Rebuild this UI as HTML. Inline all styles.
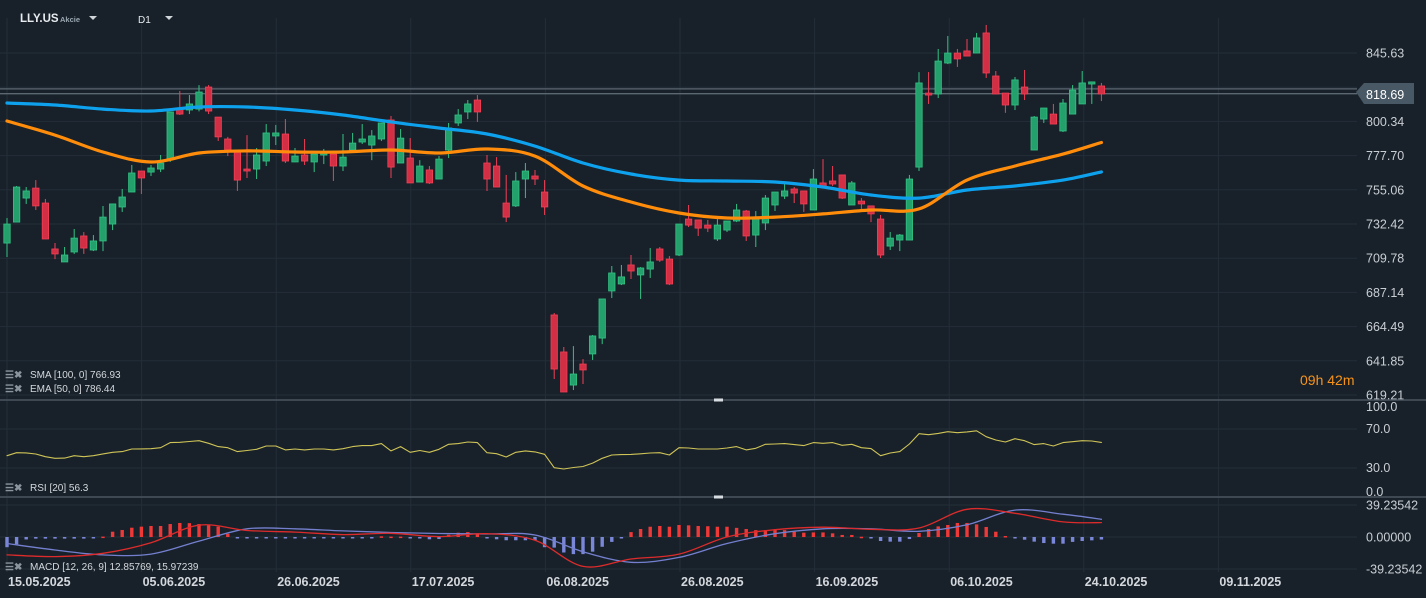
<!DOCTYPE html>
<html><head><meta charset="utf-8">
<style>
html,body{margin:0;padding:0;background:#18212a;width:1426px;height:598px;overflow:hidden;font-family:"Liberation Sans",sans-serif}
svg{display:block}
</style></head>
<body>
<svg id="chart" width="1426" height="598" xmlns="http://www.w3.org/2000/svg">
<rect width="1426" height="598" fill="#18212a"/>
<g id="grid"></g>
<g id="series"></g>
<g id="overlay">
 <text x="20" y="22" fill="#e8ecef" font-size="11.5" font-weight="bold">LLY.US</text>
 <text x="60" y="22" fill="#9aa7b2" font-size="7.5" font-weight="bold">Akcie</text>
 <path d="M89,16 L97,16 L93,20 Z" fill="#d0d5da"/>
 <text x="138" y="23" fill="#e8ecef" font-size="10">D1</text>
 <path d="M165,16 L173,16 L169,20 Z" fill="#d0d5da"/>
 <text x="1300" y="385" fill="#f7931a" font-size="14">09h 42m</text>
</g>
<g id="legends"></g>
</svg>
<script>
const candleOpen=[719.8,733.7,749.6,756.2,746.3,715.9,707.3,713.9,724.5,715.2,721.2,732.4,743.7,753.6,767.5,766.8,768.8,775.4,808.5,807.9,808.5,823.1,803.2,788.7,781.4,768.8,768.8,774.1,790.7,792.0,773.5,778.1,773.5,778.1,778.7,770.8,781.4,786.7,784.7,788.7,801.3,772.8,776.1,760.2,768.2,762.2,781.4,799.3,806.6,814.5,772.8,770.8,746.3,744.4,762.2,764.2,753.6,672.2,647.7,625.8,639.7,646.4,656.9,688.1,692.7,705.3,698.7,702.6,715.9,709.2,711.9,735.7,735.1,731.7,722.5,728.4,734.4,741.0,725.1,733.1,745.0,750.9,755.6,754.3,741.7,759.6,760.9,764.9,745.0,747.6,744.4,735.7,717.8,721.8,721.8,770.1,819.1,818.5,839.0,845.6,847.0,845.6,858.9,830.4,819.1,811.2,823.1,781.4,801.9,805.2,794.0,805.2,811.9,825.1,823.8];
const candleHigh=[736.4,757.6,756.9,761.5,749.0,719.8,717.2,729.1,727.1,725.1,744.3,745.7,755.6,771.5,767.5,771.5,778.1,806.6,820.5,817.8,824.4,824.4,803.2,790.1,781.4,791.3,782.7,798.6,798.0,801.9,782.7,788.7,778.7,782.1,778.7,792.0,792.7,798.6,794.6,799.3,803.9,795.3,789.3,774.7,770.8,777.4,799.3,808.5,814.5,817.8,778.1,776.7,764.9,766.8,772.8,768.2,761.5,673.5,651.0,651.6,643.0,658.9,682.8,704.6,705.3,711.9,703.9,716.5,717.2,711.2,732.4,745.0,735.1,735.1,735.7,734.4,745.7,741.7,741.0,751.6,753.6,759.6,756.9,754.3,768.8,775.4,770.8,764.9,760.9,749.6,744.4,738.4,727.1,725.8,764.9,833.0,833.0,848.3,856.9,848.3,854.9,858.9,864.2,833.7,819.1,829.7,834.4,803.9,809.2,811.9,815.2,824.4,833.7,826.5,825.8];
const candleLow=[710.6,733.7,745.7,741.7,722.5,709.2,707.3,712.6,712.6,714.5,714.5,728.4,740.4,753.6,752.3,764.2,766.8,773.5,804.6,805.2,807.0,805.2,787.4,777.4,754.3,762.9,762.2,770.8,784.7,772.8,773.5,771.5,766.8,772.1,760.9,767.5,781.4,785.4,774.7,787.4,762.9,772.8,759.6,760.2,758.9,762.2,776.1,797.3,801.9,800.0,754.3,756.9,733.7,743.7,749.6,758.2,738.4,629.8,621.2,622.5,626.5,642.4,652.9,683.4,692.0,696.0,682.8,696.7,707.3,692.0,711.2,730.4,724.5,727.1,721.2,727.1,733.7,721.2,717.2,728.4,741.0,749.0,746.3,740.4,741.7,756.9,757.6,749.0,745.0,742.4,733.7,709.9,715.2,714.5,721.8,767.5,811.9,815.8,838.3,836.4,843.6,845.6,829.1,818.5,806.0,807.9,814.5,781.4,799.3,798.6,793.3,805.2,811.9,811.9,813.8];
const candleClose=[732.4,756.9,754.3,744.4,722.5,712.6,711.9,723.1,716.5,721.2,737.0,745.7,750.3,766.2,762.9,769.5,772.8,806.6,805.2,811.9,819.8,807.2,790.1,781.4,761.5,767.5,778.1,792.7,792.7,774.1,777.4,774.1,778.7,779.4,770.8,776.7,786.0,788.7,790.7,799.3,770.1,789.3,759.6,770.8,759.6,775.4,796.0,804.6,811.9,806.6,762.2,756.9,737.0,760.9,767.5,762.2,743.7,636.4,621.2,633.1,635.8,658.3,682.8,700.0,697.4,701.3,703.3,707.3,708.5,692.7,732.4,731.7,729.7,729.7,731.7,734.4,741.7,724.5,735.7,749.6,753.6,754.3,752.9,745.7,762.2,757.6,758.9,749.6,759.6,745.7,739.1,711.9,723.1,725.1,762.2,825.8,817.8,840.3,845.6,841.7,843.6,855.6,832.4,818.5,811.2,827.8,818.5,803.2,809.2,798.6,812.5,821.1,825.8,826.5,818.5];
const smaValues=[812.5,811.2,808.5,807.2,809.9,809.9,807.9,804.6,800.0,796.0,792.0,784.0,772.8,765.5,761.5,760.9,760.2,756.9,751.6,749.6,754.9,757.6,761.5,766.9];
const emaValues=[800.6,791.3,780.1,773.5,779.4,780.8,780.1,780.1,781.4,779.4,782.1,777.4,757.6,747.0,739.7,736.4,737.0,739.1,741.7,742.4,761.5,770.8,778.7,786.4];
const rsiValues=[42.6,45.7,45.5,44.4,41.6,39.9,40.2,42.6,41.6,42.6,44.5,46.1,46.8,49.5,49.6,49.8,50.8,56.0,56.4,57.2,58.0,55.3,51.9,50.8,46.8,47.9,49.2,52.6,52.6,48.6,49.5,48.6,49.5,49.5,48.6,49.8,51.9,53.0,53.0,55.0,47.5,51.9,46.1,47.9,46.1,49.2,54.3,55.0,56.7,56.0,45.7,44.7,41.3,46.1,47.5,46.5,44.1,30.3,29.0,30.5,31.5,35.0,39.9,43.3,43.7,44.0,44.6,45.4,45.7,43.3,50.8,50.5,49.5,49.5,49.5,50.5,51.9,48.6,50.2,54.3,54.6,55.0,54.0,53.0,56.0,55.3,56.0,53.3,54.3,50.8,49.9,42.6,45.4,46.8,54.6,65.2,64.2,65.5,67.2,66.2,67.0,68.2,62.1,58.7,56.7,60.1,58.0,54.0,55.0,52.6,56.0,57.0,58.0,57.7,56.3];
const histValues=[-12.5,-9,-3,-2,-2,-2,-2,-2,-2,-1,0.5,6.5,8.6,11.4,12.7,13.5,13.5,15.9,17.2,17,15.9,14.3,12.7,4,-1,-1,-1,-1,-1,-1,-1,-1,-1,-1,-1,-1,-1,-1,-1,0.8,0.5,0.5,-0.5,-1,-2.8,-2.5,2.8,5.3,6,4.5,-0.5,-2.8,-4,-4,-4,-4,-12.5,-13,-19,-21,-21,-18,-12,-6,-1.5,6,9.8,12.6,13.5,12.6,14.7,14.3,13.5,13.2,12.6,12.6,11.2,9.8,8.4,8.4,9,8.4,6.5,5.3,5.6,5.6,4.5,2.5,2.5,0.3,-1.6,-4.9,-5.7,-5.7,-2.5,4.9,9.8,13,14.7,17.2,17.2,15.5,12.3,6.5,1.2,-1.6,-3.3,-5.7,-7.4,-8.2,-8.2,-6,-4.9,-4.1,-3.1];
const macdValues=[-22,-24,-20,-7,14.5,8,6,3,4.5,0.5,4,-4,-36,-27,-21,0,9,12,9.5,11,34,29,18.5,17.6];
const signalValues=[-8,-16,-22,-21,-5,10,10,7.5,5.5,4.3,3.7,2.5,-18,-31,-25,-8,4,10,10,7,15,33,28,21.7];
const priceTicks=["845.63","822.99","800.34","777.70","755.06","732.42","709.78","687.14","664.49","641.85","619.21"];
const rsiTicks=[100,70,30,0];
const macdTicks=["39.23542","0.00000","-39.23542"];
const dateLabels=["15.05.2025","05.06.2025","26.06.2025","17.07.2025","06.08.2025","26.08.2025","16.09.2025","06.10.2025","24.10.2025","09.11.2025"];
const lastPrice=818.69, bidLine=821.9;

const NS="http://www.w3.org/2000/svg";
const X0=7, STEP=9.6, LINE_STEP=5;
const xOf=i=>X0+i*STEP;
const yP=p=>53+(845.63-p)*34.2/22.642;
const yR=v=>497.25-0.975*v;
const yM=v=>537-0.8156*v;
function mk(tag,attrs,parent){const e=document.createElementNS(NS,tag);for(const k in attrs)e.setAttribute(k,attrs[k]);parent.appendChild(e);return e;}
const grid=document.getElementById('grid'), ser=document.getElementById('series'), leg=document.getElementById('legends');

priceTicks.forEach((t,k)=>{
  const p=845.63-k*22.642, y=yP(p);
  const l=mk('line',{x1:0,x2:1357,y1:y,y2:y,stroke:'#232e38','stroke-width':1},grid);
  
  
  if(k===1) return;
  const tx=mk('text',{x:1366,y:y+4.5,fill:'#c9ced3','font-size':12.5},grid);
  tx.textContent=t;
  
  
});
dateLabels.forEach((d,k)=>{
  const x=7+k*134.6;
  const l=mk('line',{x1:x,x2:x,y1:18,y2:572,stroke:'#232e38','stroke-width':1},grid);
  
  
  const t=mk('text',{x:x+1,y:586,fill:'#d4d8dc','font-size':12.5,'font-weight':'bold'},grid);
  t.textContent=d;
  
  
});
rsiTicks.forEach(v=>{
  const y=yR(v);
  if(v===70||v===30){const l=mk('line',{x1:0,x2:1357,y1:y,y2:y,stroke:'#232e38'},grid);
    
    }
  const ty={100:411,70:433,30:472,0:496}[v];
  const t=mk('text',{x:1366,y:ty,fill:'#c9ced3','font-size':12.5},grid);
  t.textContent=v.toFixed(1);
  
  
});
macdTicks.forEach((s,k)=>{
  const v=39.23542*(1-k), y=yM(v);
  const l=mk('line',{x1:0,x2:1357,y1:y,y2:y,stroke:'#232e38'},grid);
  
  
  const t=mk('text',{x:1366,y:y+4.5,fill:'#c9ced3','font-size':12.5},grid);
  t.textContent=s;
  
  
});
[400,497].forEach(y=>{
  const l=mk('line',{x1:0,x2:1426,y1:y,y2:y,stroke:'#4a5561','stroke-width':1.5},grid);
  
  
  const h=mk('rect',{x:714,y:y-1.5,width:9,height:3,fill:'#d8dde2'},grid);
  
  
});

[bidLine,lastPrice].forEach(p=>{
  const l=mk('line',{x1:0,x2:1357,y1:yP(p),y2:yP(p),stroke:'#5b6771','stroke-width':1.3},ser);
  
  
});

for(let i=0;i<candleOpen.length;i++){
  const o=candleOpen[i],h=candleHigh[i],lo=candleLow[i],c=candleClose[i];
  const up=c>=o, x=xOf(i);
  const fill=up?'#23a06c':'#d22f45', st=up?'#33c283':'#f23f55';
  const w=mk('line',{x1:x,x2:x,y1:yP(h),y2:yP(lo),stroke:st,'stroke-width':1},ser);
  
  
  const top=yP(Math.max(o,c)), bot=yP(Math.min(o,c));
  const b=mk('rect',{x:x-3.2,y:top,width:6.4,height:Math.max(1.5,bot-top),fill:fill,stroke:st,'stroke-width':0.8},ser);
  
  
}
function line(vals,yf,color,width,step,name,smooth){
  const pts=vals.map((v,k)=>[xOf(Math.min(k*step,candleOpen.length-1)),yf(v)]);
  let d='M'+pts[0][0].toFixed(1)+','+pts[0][1].toFixed(1);
  for(let k=0;k<pts.length-1;k++){
    if(!smooth){d+=' L'+pts[k+1][0].toFixed(1)+','+pts[k+1][1].toFixed(1);continue;}
    const p0=pts[Math.max(0,k-1)],p1=pts[k],p2=pts[k+1],p3=pts[Math.min(pts.length-1,k+2)];
    const c1=[p1[0]+(p2[0]-p0[0])/6,p1[1]+(p2[1]-p0[1])/6];
    const c2=[p2[0]-(p3[0]-p1[0])/6,p2[1]-(p3[1]-p1[1])/6];
    d+=' C'+c1.map(n=>n.toFixed(1)).join(',')+' '+c2.map(n=>n.toFixed(1)).join(',')+' '+p2[0].toFixed(1)+','+p2[1].toFixed(1);
  }
  const pl=mk('path',{d:d,fill:'none',stroke:color,'stroke-width':width,'stroke-linejoin':'round','stroke-linecap':'round'},ser);
  
  
}
line(smaValues,yP,'#0ea2ee',3.2,LINE_STEP,'sma-100-line',true);
line(emaValues,yP,'#ff8c0a',3.2,LINE_STEP,'ema-50-line',true);
line(rsiValues,yR,'#cfc457',1.1,1,'rsi-line',false);
histValues.forEach((v,i)=>{
  const x=xOf(i), y0=yM(0), y1=yM(v);
  const r=mk('rect',{x:x-1.7,y:Math.min(y0,y1),width:3.4,height:Math.max(1.5,Math.abs(y1-y0)),fill:v>=0?'#ef3838':'#7a86d8'},ser);
  
  
});
line(signalValues,yM,'#7480cf',1.3,LINE_STEP,'macd-signal-line',true);
line(macdValues,yM,'#dd2b2b',1.3,LINE_STEP,'macd-line',true);

const bg=mk('path',{d:'M1356,92 L1364,83 L1414,83 L1414,104 L1364,104 Z',fill:'#485864'},ser);


const bt=mk('text',{x:1366,y:99,fill:'#ffffff','font-size':12.5},ser);
bt.textContent=lastPrice.toFixed(2);



[[378,'SMA [100,  0]  766.93','sma-legend'],[392,'EMA [50,  0]  786.44','ema-legend'],[491,'RSI  [20]  56.3','rsi-legend'],[570,'MACD  [12,  26,  9]  12.85769,   15.97239','macd-legend']].forEach(([y,s,n])=>{
  const ic=mk('text',{x:5,y:y,fill:'#8a949d','font-size':10,'font-weight':'bold'},leg);
  ic.textContent='☰✖';
  
  
  const t=mk('text',{x:30,y:y,fill:'#d4d8dc','font-size':10},leg);
  t.textContent=s;
  
  
});
</script>
</body></html>
